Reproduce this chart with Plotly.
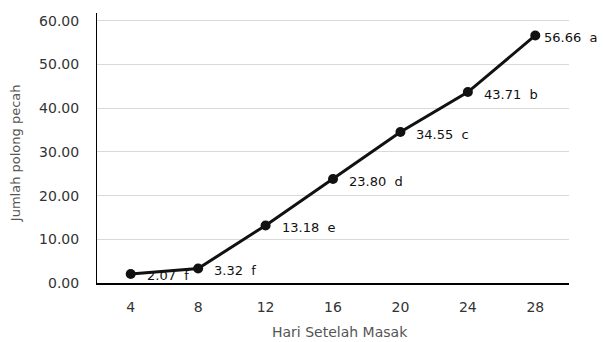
import plotly.graph_objects as go

days = ["4", "8", "12", "16", "20", "24", "28"]
values = [2.07, 3.32, 13.18, 23.80, 34.55, 43.71, 56.66]
letters = ["f", "f", "e", "d", "c", "b", "a"]
y_ticks = [0, 10, 20, 30, 40, 50, 60]
x_title = "Hari Setelah Masak"
y_title = "Jumlah polong pecah"

FONT = "DejaVu Sans"
TXT = "#333333"
TITLE = "#555555"

fig = go.Figure()
fig.add_trace(go.Scatter(
    x=days, y=values, mode="lines+markers",
    line=dict(color="#111111", width=3),
    marker=dict(color="#111111", size=10),
    showlegend=False, cliponaxis=False,
))

for i, (v, l) in enumerate(zip(values, letters)):
    fig.add_annotation(
        x=i, y=v, text=f"{v:.2f}&nbsp;&nbsp;{l}", showarrow=False,
        xanchor="left", yanchor="middle",
        xshift=7 if i == len(values) - 1 else 14, yshift=-2,
        font=dict(family=FONT, size=13, color="#111111"),
    )

# axis titles
fig.add_annotation(
    x=0.515, y=-0.181, xref="paper", yref="paper", text=x_title,
    showarrow=False, xanchor="center", yanchor="middle",
    font=dict(family=FONT, size=14, color=TITLE),
)
fig.add_annotation(
    x=-0.1737, y=0.481, xref="paper", yref="paper", text=y_title,
    showarrow=False, xanchor="center", yanchor="middle", textangle=-90,
    font=dict(family=FONT, size=13, color=TITLE),
)

fig.update_layout(
    width=603, height=342,
    margin=dict(l=97, r=34, t=13, b=59),
    paper_bgcolor="white", plot_bgcolor="white",
    font=dict(family=FONT, size=14, color=TXT),
    xaxis=dict(
        type="category", range=[-0.5, 6.5], automargin=False,
        showline=True, linecolor="#000000", linewidth=1.5,
        showgrid=False, ticks="outside", ticklen=10, tickcolor="rgba(0,0,0,0)",
        tickfont=dict(family=FONT, size=14, color=TXT),
    ),
    yaxis=dict(
        range=[0, 61.8], tickvals=y_ticks, tickformat=".2f", automargin=False,
        showline=True, linecolor="#000000", linewidth=1,
        showgrid=True, gridcolor="#d9d9d9", gridwidth=1,
        zeroline=False,
        ticks="outside", ticklen=14, tickcolor="rgba(0,0,0,0)",
        tickfont=dict(family=FONT, size=14, color=TXT),
    ),
)

fig.write_html("out.html", config={"displayModeBar": False})

# remove the default page margin so the figure sits at the window's corner
with open("out.html", "r", encoding="utf-8") as f:
    html = f.read()
html = html.replace("<body>", '<body style="margin:0;padding:0;overflow:hidden">', 1)
with open("out.html", "w", encoding="utf-8") as f:
    f.write(html)
